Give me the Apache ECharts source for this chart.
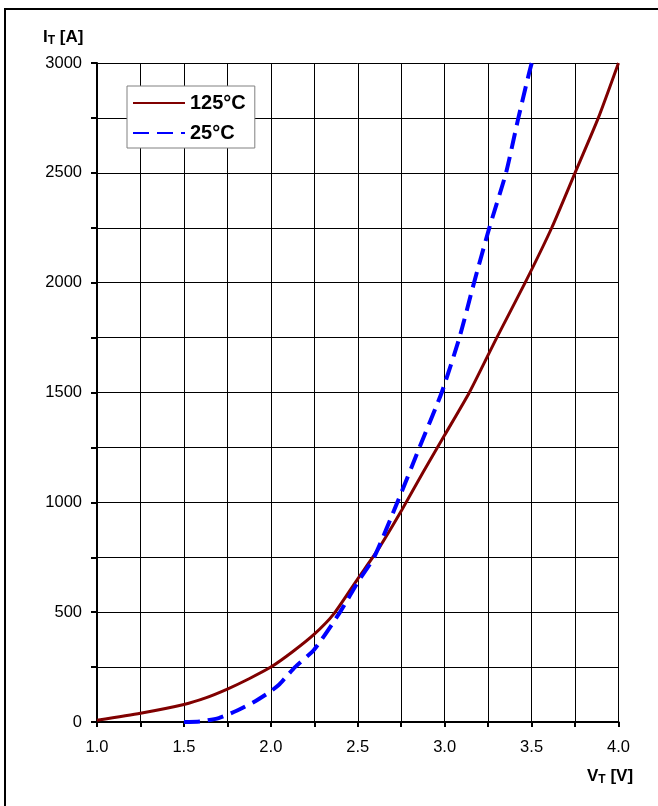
<!DOCTYPE html>
<html>
<head>
<meta charset="utf-8">
<script src="https://cdn.jsdelivr.net/npm/echarts@6/dist/echarts.min.js"></script>
<style>
html,body{margin:0;padding:0;background:#fff;}
#c{width:658px;height:806px;}
</style>
</head>
<body>
<div id="c"></div>
<script>
// V_T [V], I_T [A]
var hot125 = [[1.0,8],[1.25,40],[1.5,80],[1.625,110],[1.75,150],[1.875,197],[2.0,250],[2.125,320],[2.25,400],[2.36,490],[2.5,652],[2.625,795],[2.75,960],[2.875,1136],[3.0,1306],[3.142,1500],[3.3,1750],[3.463,2000],[3.616,2250],[3.75,2500],[3.884,2750],[4.0,3000]];
var cold25 = [[1.5,0],[1.6,3],[1.7,18],[1.8,50],[1.9,90],[2.0,140],[2.05,172],[2.08,198],[2.139,250],[2.25,330],[2.398,500],[2.5,636],[2.594,750],[2.728,1000],[2.855,1250],[2.983,1500],[3.085,1750],[3.169,2000],[3.257,2250],[3.353,2500],[3.424,2750],[3.501,3000],[3.526,3032]];
var seriesNames = ['125°C','25°C'];
var xTicks = {min:1.0, max:4.0, step:0.25, labelStep:0.5};
var yTicks = {min:0, max:3000, step:250, labelStep:500};

var chart = echarts.init(document.getElementById('c'));
var font = '"Liberation Sans", Arial, sans-serif';
function isMult(v, s){ var r = v / s; return Math.abs(r - Math.round(r)) < 1e-6; }
chart.setOption({
  animation:false,
  backgroundColor:'#fff',
  grid:{left:97, top:63, right:39.5, bottom:84, containLabel:false},
  xAxis:{
    type:'value', min:xTicks.min, max:xTicks.max, interval:xTicks.step,
    axisLine:{show:true, onZero:false, lineStyle:{color:'#000', width:2}},
    axisTick:{show:true, length:5, lineStyle:{color:'#000', width:2}},
    splitLine:{show:true, lineStyle:{color:'#000', width:1}},
    axisLabel:{color:'#000', fontFamily:font, fontSize:16.5, margin:17,
      formatter:function(v){ return isMult(v - xTicks.min, xTicks.labelStep) ? v.toFixed(1) : ''; }}
  },
  yAxis:{
    type:'value', min:yTicks.min, max:yTicks.max, interval:yTicks.step,
    axisLine:{show:true, lineStyle:{color:'#000', width:2}},
    axisTick:{show:true, length:6, lineStyle:{color:'#000', width:2}},
    splitLine:{show:true, lineStyle:{color:'#000', width:1}},
    axisLabel:{color:'#000', fontFamily:font, fontSize:16.5, margin:15,
      formatter:function(v){ return isMult(v, yTicks.labelStep) ? String(v) : ''; }}
  },
  legend:{
    show:true, left:127, top:86, orient:'vertical',
    backgroundColor:'#fff', borderColor:'#808080', borderWidth:1,
    padding:[7,9,5,5], itemGap:10, itemWidth:52, itemHeight:14,
    itemStyle:{opacity:0},
    textStyle:{fontFamily:font, fontSize:20, fontWeight:'bold', color:'#000'},
    data:seriesNames
  },
  series:[
    {name:seriesNames[0], type:'line', data:hot125, symbol:'none', showSymbol:false, smooth:0.2,
     lineStyle:{color:'#800000', width:3}, itemStyle:{color:'#800000'}, z:3},
    {name:seriesNames[1], type:'line', data:cold25, symbol:'none', showSymbol:false, smooth:0.2,
     lineStyle:{color:'#0000ff', width:4, type:[16,8]}, itemStyle:{color:'#0000ff'}, z:4}
  ],
  graphic:[
    {type:'rect', shape:{x:5, y:9, width:800, height:900}, style:{fill:null, stroke:'#000', lineWidth:2}, silent:true, z:-1},
    {type:'text', left:43, top:29, style:{
      text:'{a|I}{b|T}{a| [A]}',
      rich:{a:{fontFamily:font, fontSize:17, fontWeight:'bold', fill:'#000'},
            b:{fontFamily:font, fontSize:12, fontWeight:'bold', fill:'#000', padding:[7,0,0,0]}}}},
    {type:'text', left:587, top:768, style:{
      text:'{a|V}{b|T}{a| [V]}',
      rich:{a:{fontFamily:font, fontSize:17, fontWeight:'bold', fill:'#000'},
            b:{fontFamily:font, fontSize:12, fontWeight:'bold', fill:'#000', padding:[7,0,0,0]}}}}
  ]
});
</script>
</body>
</html>
